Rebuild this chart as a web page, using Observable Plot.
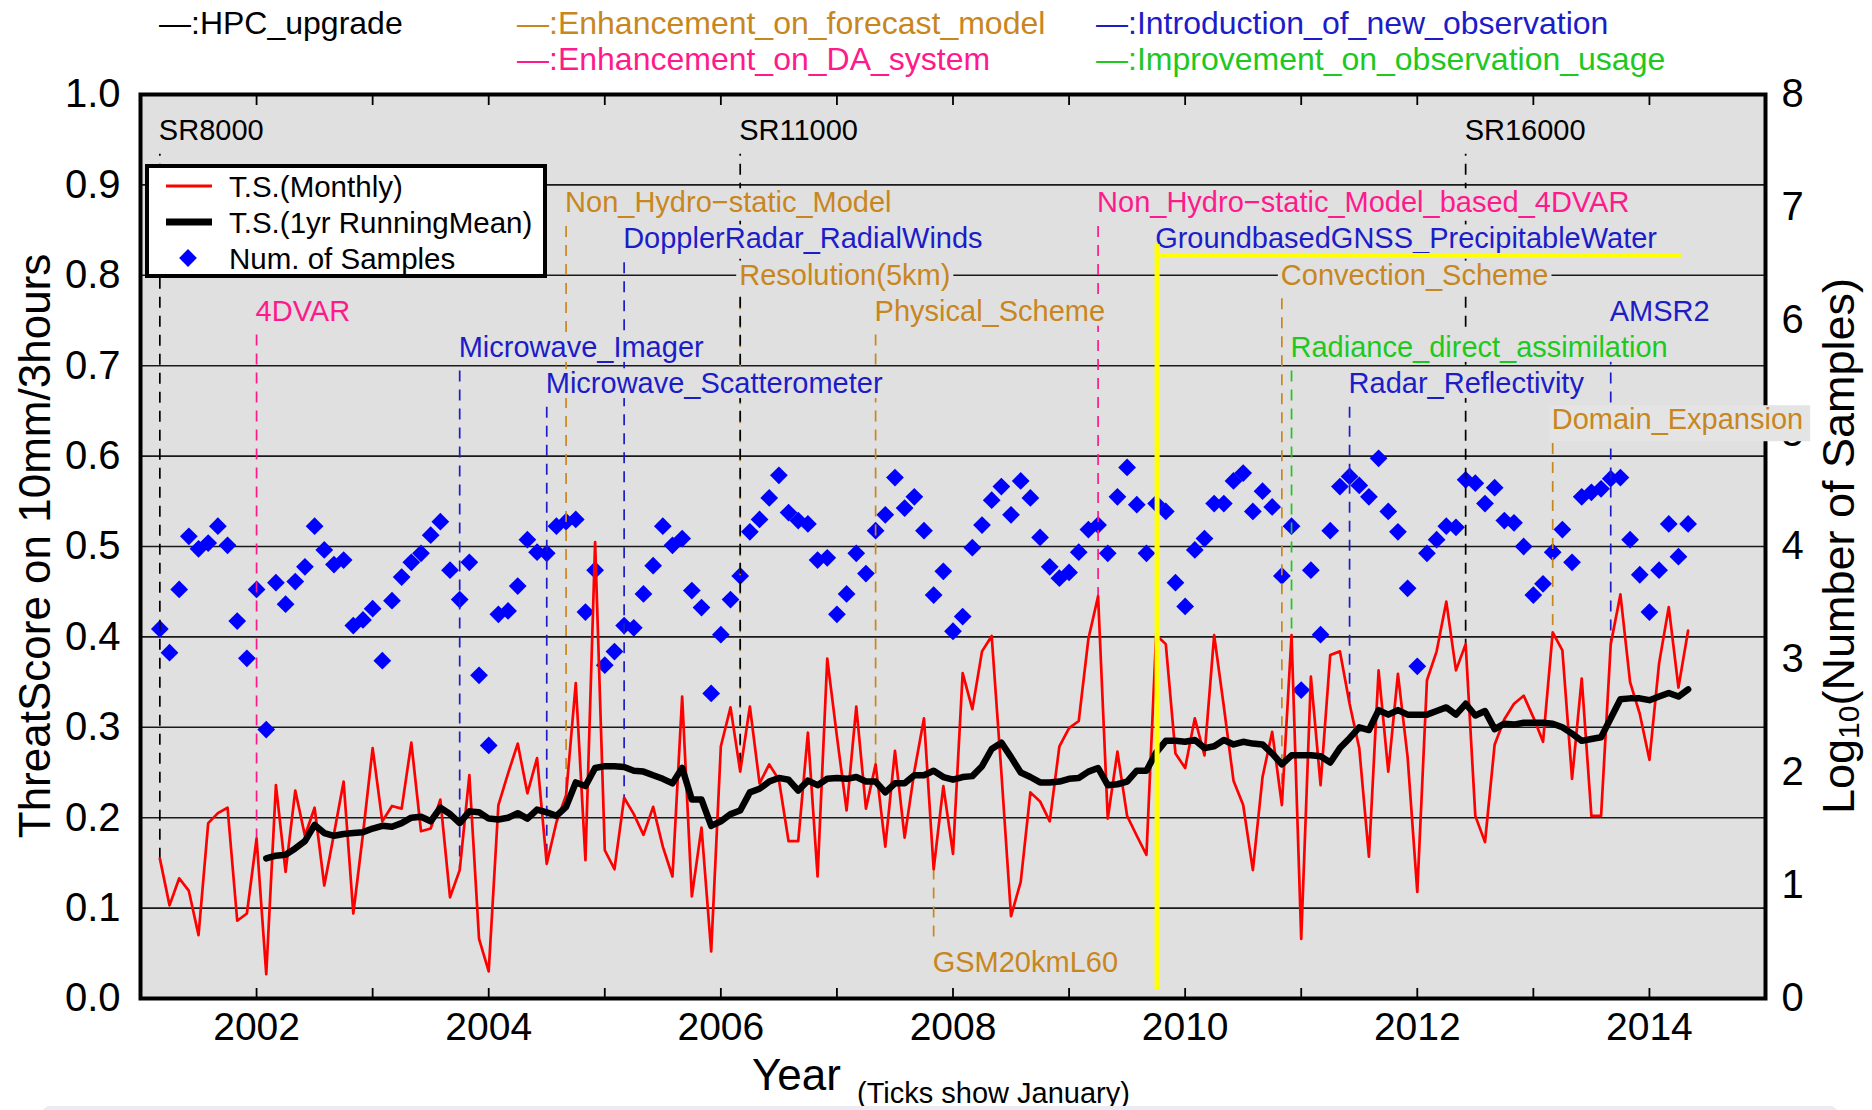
<!DOCTYPE html>
<html>
<head>
<meta charset="utf-8">
<script src="https://cdn.jsdelivr.net/npm/d3@7"></script>
<script src="https://cdn.jsdelivr.net/npm/@observablehq/plot@0.6"></script>
<style>
  body { margin: 0; background: #ffffff; }
  #wrap { position: relative; width: 1872px; height: 1110px; overflow: hidden; }
  #bar { position: absolute; left: 42px; top: 1106px; width: 1796px; height: 24px; background: #ecebf3; border-radius: 8px; }
</style>
</head>
<body>
<div id="wrap"><div id="chart"></div><div id="bar"></div></div>
<script>
// ---------------- data ----------------
// months are counted from January 2001 (= 0)
const firstMonth = 2;      // T.S.(Monthly) and samples start March 2001
const runFirstMonth = 13;  // 1yr running mean starts February 2002

const tsMonthly = [
  0.155,0.103,0.133,0.119,0.070,0.194,0.205,0.211,0.086,0.094,
  0.177,0.027,0.236,0.140,0.230,0.180,0.211,0.125,0.182,0.240,0.094,0.182,
  0.277,0.196,0.213,0.210,0.283,0.185,0.188,0.220,0.112,0.142,0.247,0.066,
  0.030,0.214,0.249,0.282,0.227,0.266,0.149,0.195,0.225,0.349,0.153,0.505,
  0.164,0.143,0.222,0.204,0.181,0.212,0.168,0.135,0.334,0.113,0.189,0.052,
  0.279,0.322,0.251,0.323,0.238,0.259,0.242,0.174,0.174,0.294,0.135,0.376,
  0.290,0.208,0.323,0.210,0.259,0.168,0.274,0.178,0.251,0.310,0.143,0.235,
  0.160,0.360,0.320,0.384,0.401,0.250,0.091,0.129,0.228,0.218,0.196,0.279,
  0.299,0.307,0.398,0.445,0.199,0.273,0.202,0.180,0.159,0.402,0.392,0.271,
  0.255,0.310,0.269,0.402,0.323,0.241,0.214,0.142,0.245,0.295,0.214,0.402,
  0.066,0.356,0.236,0.380,0.384,0.326,0.277,0.157,0.363,0.251,0.359,0.267,
  0.118,0.352,0.384,0.439,0.363,0.392,0.202,0.173,0.281,0.309,0.326,0.335,
  0.311,0.284,0.405,0.385,0.243,0.354,0.202,0.202,0.392,0.447,0.350,0.315,
  0.264,0.371,0.433,0.344,0.407
];

const tsRunningMean = [
  0.155,0.158,0.159,0.166,0.174,0.192,0.183,0.180,0.182,0.183,0.184,
  0.188,0.191,0.190,0.194,0.200,0.201,0.196,0.211,0.204,0.194,0.207,0.206,
  0.199,0.198,0.200,0.205,0.199,0.209,0.206,0.202,0.212,0.239,0.235,0.255,
  0.257,0.257,0.256,0.252,0.251,0.247,0.243,0.238,0.255,0.220,0.220,0.191,
  0.196,0.204,0.208,0.228,0.232,0.240,0.244,0.242,0.230,0.241,0.236,0.243,
  0.244,0.243,0.245,0.240,0.240,0.228,0.238,0.238,0.247,0.247,0.252,0.245,
  0.242,0.245,0.246,0.257,0.276,0.283,0.267,0.250,0.245,0.239,0.239,0.240,
  0.243,0.244,0.251,0.255,0.236,0.237,0.240,0.252,0.252,0.272,0.285,0.285,
  0.284,0.286,0.277,0.279,0.286,0.281,0.284,0.282,0.281,0.271,0.259,0.269,
  0.269,0.269,0.268,0.261,0.277,0.288,0.300,0.297,0.319,0.314,0.319,0.314,
  0.314,0.314,0.318,0.322,0.314,0.326,0.313,0.318,0.298,0.304,0.303,0.305,
  0.305,0.305,0.304,0.300,0.293,0.285,0.287,0.289,0.310,0.331,0.332,0.332,
  0.330,0.334,0.338,0.334,0.342
];

// log10(number of samples), right axis 0..8
const samplesLog10 = [
  3.27,3.06,3.62,4.09,3.98,4.03,4.18,4.01,3.34,3.01,
  3.62,2.38,3.68,3.49,3.69,3.82,4.18,3.97,3.84,3.88,3.30,3.35,
  3.45,2.99,3.52,3.73,3.86,3.94,4.10,4.22,3.79,3.53,3.86,2.86,
  2.24,3.40,3.43,3.65,4.06,3.95,3.94,4.18,4.22,4.24,3.42,3.79,
  2.95,3.07,3.30,3.28,3.58,3.83,4.18,4.01,4.07,3.61,3.46,2.70,
  3.22,3.53,3.74,4.13,4.24,4.43,4.63,4.30,4.23,4.20,3.88,3.90,
  3.40,3.58,3.94,3.76,4.14,4.28,4.61,4.34,4.44,4.14,3.57,3.78,
  3.25,3.38,3.99,4.19,4.41,4.53,4.28,4.58,4.43,4.08,3.82,3.72,
  3.77,3.95,4.15,4.19,3.94,4.44,4.70,4.37,3.94,4.38,4.31,3.68,
  3.47,3.97,4.07,4.38,4.38,4.58,4.65,4.31,4.49,4.35,3.74,4.18,
  2.73,3.79,3.22,4.14,4.53,4.62,4.54,4.44,4.78,4.31,4.13,3.63,
  2.94,3.94,4.06,4.18,4.17,4.59,4.56,4.38,4.52,4.23,4.21,4.00,
  3.57,3.67,3.95,4.15,3.86,4.44,4.48,4.51,4.60,4.61,4.06,3.75,
  3.42,3.79,4.20,3.91,4.20
];

const yearTicks = [2002,2003,2004,2005,2006,2007,2008,2009,2010,2011,2012,2013,2014];
const yearLabels = [2002,2004,2006,2008,2010,2012,2014];
const scoreTicks = [0,0.1,0.2,0.3,0.4,0.5,0.6,0.7,0.8,0.9,1.0];
const sampleTicks = [0,1,2,3,4,5,6,7,8];

const categories = ["HPC_upgrade","Enhancement_on_forecast_model","Enhancement_on_DA_system",
                    "Introduction_of_new_observation","Improvement_on_observation_usage"];
const categoryColor = ["#000000","#c8861e","#ff1a8c","#1c1cc8","#1ec81e"];

const eventMonth = [2,12,33,42,44,50,62,62,76,82,99,105,118,119,125,137,146,152];
const eventLabel = ["SR8000","4DVAR","Microwave_Imager","Microwave_Scatterometer","Non_Hydro\u2212static_Model",
  "DopplerRadar_RadialWinds","SR11000","Resolution(5km)","Physical_Scheme","GSM20kmL60",
  "Non_Hydro\u2212static_Model_based_4DVAR","GroundbasedGNSS_PrecipitableWater","Convection_Scheme",
  "Radiance_direct_assimilation","Radar_Reflectivity","SR16000","Domain_Expansion","AMSR2"];
const eventCategory = [0,2,3,3,1,3,0,1,1,1,2,3,1,4,3,0,1,3];
const eventLevel = [0.96,0.76,0.72,0.68,0.88,0.84,0.96,0.80,0.76,0.04,0.88,0.84,0.80,0.72,0.68,0.96,0.64,0.76];

// yellow highlight drawn on the original
const highlight = [{month: 105.1, bottom: 0.01, top: 0.834, barY: 0.822, barEnd: 159.3}];

// ---------------- build ----------------
const FONT = "'Liberation Sans', Arial, Helvetica, sans-serif";
const toYear = m => 2001 + m / 12;

const monthly = tsMonthly.map((v, i) => ({x: toYear(firstMonth + i), y: v}));
const running = tsRunningMean.map((v, i) => ({x: toYear(runFirstMonth + i), y: v}));
const samples = samplesLog10.map((v, i) => ({x: toYear(firstMonth + i), y: v / 8}));

const events = eventMonth.map((m, i) => {
  const value = tsMonthly[m - firstMonth];
  const level = eventLevel[i];
  return {
    x: toYear(m), label: eventLabel[i], cat: eventCategory[i], color: categoryColor[eventCategory[i]],
    level, y1: level > value ? level - 0.026 : level + 0.028, y2: value
  };
});

const dashed = {x: "x", y1: "y1", y2: "y2", stroke: "color", strokeWidth: 1.7, strokeDasharray: "11,8"};

const plot = Plot.plot({
  width: 1872, height: 1110,
  marginLeft: 140, marginRight: 107, marginTop: 94, marginBottom: 112,
  x: {domain: [2001, 2015], label: null},
  y: {domain: [0, 1], label: null},
  color: {type: "identity"},
  style: {fontFamily: FONT, fontSize: "28px", background: "#ffffff", color: "#000000", overflow: "visible"},
  marks: [
    Plot.frame({fill: "#e0e0e0", stroke: null}),
    Plot.gridY(scoreTicks.slice(1, -1), {stroke: "#1a1a1a", strokeOpacity: 1, strokeWidth: 1.6}),
    Plot.dot(samples, {x: "x", y: "y", symbol: "diamond2", r: 8, fill: "#0000ff", stroke: null}),
    Plot.ruleX(events.filter(d => d.cat !== 0), dashed),
    Plot.ruleX(events.filter(d => d.cat === 0), {...dashed, strokeDashoffset: 9}),
    Plot.line(monthly, {x: "x", y: "y", stroke: "#ff0000", strokeWidth: 2.7}),
    Plot.line(running, {x: "x", y: "y", stroke: "#000000", strokeWidth: 6.5, strokeLinejoin: "round"}),
    Plot.frame({stroke: "#000000", strokeWidth: 4}),
    Plot.axisX(yearTicks, {anchor: "bottom", tickSize: -10, strokeWidth: 1.8, fill: "none", label: null}),
    Plot.axisX(yearTicks, {anchor: "top", tickSize: -10, strokeWidth: 1.8, fill: "none", label: null}),
    Plot.axisX(yearLabels, {anchor: "bottom", tickSize: 0, tickPadding: 14, fontSize: 39,
      tickFormat: d => String(d), label: null}),
    Plot.axisY(scoreTicks, {anchor: "left", tickSize: 0, tickPadding: 20, fontSize: 40,
      tickFormat: d => d.toFixed(1), label: null}),
    Plot.axisY(sampleTicks.map(d => d / 8), {anchor: "right", tickSize: 0, tickPadding: 16, fontSize: 40,
      tickFormat: d => String(Math.round(d * 8)), label: null}),
    Plot.text(events, {x: "x", y: "level", text: "label", fill: "color", textAnchor: "start",
      dx: -1, fontSize: 29}),
    Plot.ruleX(highlight, {x: d => toYear(d.month), y1: "bottom", y2: "top", stroke: "#ffff00", strokeWidth: 5}),
    Plot.ruleY(highlight, {y: "barY", x1: d => toYear(d.month + 0.2), x2: d => toYear(d.barEnd),
      stroke: "#ffff00", strokeWidth: 5})
  ]
});

document.getElementById("chart").append(plot);

// opaque backgrounds behind event labels (same local transform as each text)
const labelSet = new Set(eventLabel);
const labelTexts = Array.from(plot.querySelectorAll("text")).filter(t => labelSet.has(t.textContent));
labelTexts.forEach(t => {
  const b = t.getBBox();
  const wide = t.textContent === "Domain_Expansion";
  const r = document.createElementNS("http://www.w3.org/2000/svg", "rect");
  r.setAttribute("x", b.x - 3);
  r.setAttribute("y", b.y + 2);
  r.setAttribute("width", b.width + (wide ? 10 : 6));
  r.setAttribute("height", b.height + (wide ? 4 : -3));
  r.setAttribute("fill", wide ? "#e4e4e4" : "#e0e0e0");
  r.setAttribute("stroke", "none");
  const tr = t.getAttribute("transform");
  if (tr) r.setAttribute("transform", tr);
  const g = t.parentNode;
  g.insertBefore(r, g.firstChild);
});

const svg = d3.select(plot);

// top legend of annotation categories
const topLegend = [
  {cat: 0, x: 159, y: 23}, {cat: 1, x: 517, y: 23}, {cat: 3, x: 1096, y: 23},
  {cat: 2, x: 517, y: 59}, {cat: 4, x: 1096, y: 59}
];
svg.append("g").selectAll("text").data(topLegend).join("text")
  .attr("x", d => d.x).attr("y", d => d.y)
  .attr("text-anchor", "start")
  .attr("dominant-baseline", "central")
  .attr("font-family", FONT).attr("font-size", 32)
  .attr("fill", d => categoryColor[d.cat])
  .text(d => "\u2014:" + categories[d.cat]);

// series legend box
const lg = svg.append("g");
lg.append("rect").attr("x", 147).attr("y", 166).attr("width", 398).attr("height", 110)
  .attr("fill", "#ffffff").attr("stroke", "#000000").attr("stroke-width", 4);
lg.append("line").attr("x1", 166).attr("x2", 212).attr("y1", 186).attr("y2", 186)
  .attr("stroke", "#ff0000").attr("stroke-width", 3);
lg.append("line").attr("x1", 166).attr("x2", 212).attr("y1", 222).attr("y2", 222)
  .attr("stroke", "#000000").attr("stroke-width", 7);
lg.append("path").attr("d", d3.symbol(d3.symbolDiamond2, Math.PI * 8 * 8)())
  .attr("transform", "translate(188,258)").attr("fill", "#0000ff");
lg.selectAll("text.leg").data(["T.S.(Monthly)", "T.S.(1yr RunningMean)", "Num. of Samples"]).join("text")
  .attr("x", 229).attr("y", (d, i) => 186 + i * 36)
  .attr("text-anchor", "start")
  .attr("dominant-baseline", "central")
  .attr("font-family", FONT).attr("font-size", 29.5).attr("fill", "#000000")
  .text(d => d);

// axis titles
svg.append("text")
  .attr("transform", "translate(34,546) rotate(-90)")
  .attr("text-anchor", "middle").attr("dominant-baseline", "central")
  .attr("font-family", FONT).attr("font-size", 44).attr("fill", "#000000")
  .text("ThreatScore on 10mm/3hours");

const rt = svg.append("text")
  .attr("transform", "translate(1838,546) rotate(-90)")
  .attr("text-anchor", "middle").attr("dominant-baseline", "central")
  .attr("font-family", FONT).attr("font-size", 45).attr("fill", "#000000");
rt.append("tspan").text("Log");
rt.append("tspan").attr("font-size", 30).attr("dy", 10).text("10");
rt.append("tspan").attr("dy", -10).text("(Number of Samples)");

svg.append("text").attr("x", 752).attr("y", 1090).attr("text-anchor", "start")
  .attr("font-family", FONT).attr("font-size", 44).attr("fill", "#000000").text("Year");
svg.append("text").attr("x", 857).attr("y", 1103).attr("text-anchor", "start")
  .attr("font-family", FONT).attr("font-size", 29).attr("fill", "#000000").text("(Ticks show January)");
</script>
</body>
</html>
